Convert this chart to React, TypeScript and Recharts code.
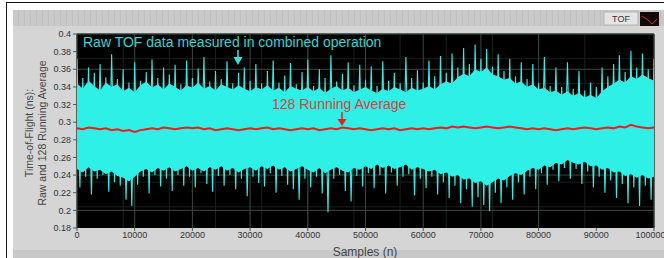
import { ComposedChart, Line, Area, XAxis, YAxis, CartesianGrid } from "recharts";

const xTicks = [0, 10000, 20000, 30000, 40000, 50000, 60000, 70000, 80000, 90000, 100000];
const yTicks = [0.18, 0.2, 0.22, 0.24, 0.26, 0.28, 0.3, 0.32, 0.34, 0.36, 0.38, 0.4];

// solid band of the raw TOF data, every 1000 samples
const coreTop = [
  0.344, 0.338, 0.347, 0.341, 0.336, 0.345, 0.34, 0.343, 0.335, 0.339,
  0.334, 0.342, 0.346, 0.339, 0.343, 0.337, 0.344, 0.34, 0.336, 0.342,
  0.339, 0.345, 0.338, 0.341, 0.336, 0.343, 0.34, 0.337, 0.342, 0.338,
  0.335, 0.34, 0.337, 0.342, 0.336, 0.339, 0.334, 0.341, 0.338, 0.336,
  0.34, 0.335, 0.339, 0.333, 0.338, 0.341, 0.336, 0.339, 0.334, 0.337,
  0.34, 0.336, 0.333, 0.338, 0.335, 0.34, 0.337, 0.334, 0.339, 0.336,
  0.338, 0.341, 0.337, 0.343, 0.346, 0.344, 0.351, 0.355, 0.352, 0.36,
  0.357, 0.362, 0.354, 0.352, 0.348, 0.35, 0.344, 0.346, 0.34, 0.343,
  0.337, 0.339, 0.334, 0.336, 0.331, 0.335, 0.33, 0.333, 0.328, 0.331,
  0.327, 0.335, 0.34, 0.344, 0.348, 0.345, 0.352, 0.349, 0.354, 0.35,
  0.347,
];
const coreBottom = [
  0.247, 0.243, 0.249, 0.244, 0.246, 0.241, 0.244, 0.239, 0.237, 0.233,
  0.238, 0.244, 0.247, 0.243, 0.248, 0.245, 0.249, 0.244, 0.247, 0.25,
  0.245, 0.248, 0.244, 0.249, 0.246, 0.25, 0.245, 0.248, 0.243, 0.247,
  0.249, 0.245, 0.25, 0.247, 0.251, 0.246, 0.249, 0.244, 0.247, 0.25,
  0.246, 0.243, 0.248, 0.242, 0.246, 0.249, 0.245, 0.243, 0.248, 0.246,
  0.25, 0.247, 0.252, 0.248, 0.251, 0.247, 0.249, 0.252, 0.246, 0.249,
  0.247, 0.244, 0.246, 0.241, 0.243, 0.238, 0.24, 0.235, 0.236, 0.231,
  0.233, 0.228, 0.232, 0.236, 0.234, 0.239, 0.242, 0.24, 0.245, 0.248,
  0.246, 0.251, 0.249, 0.254, 0.252, 0.257, 0.254, 0.252, 0.255, 0.25,
  0.251, 0.246, 0.248, 0.243, 0.244, 0.239, 0.241, 0.237, 0.24, 0.236,
  0.238,
];

// upper spikes at 0, 1000, ... 100000
const spikeTop = [
  0.372, 0.35, 0.362, 0.356, 0.366, 0.351, 0.377, 0.349, 0.36, 0.345,
  0.368, 0.347, 0.357, 0.371, 0.35, 0.362, 0.354, 0.365, 0.343, 0.37,
  0.35, 0.361, 0.374, 0.346, 0.358, 0.349, 0.369, 0.344, 0.356, 0.362,
  0.347, 0.366, 0.344, 0.358, 0.37, 0.345, 0.353, 0.367, 0.343, 0.357,
  0.371, 0.341, 0.36, 0.35, 0.376, 0.346, 0.355, 0.368, 0.342, 0.365,
  0.348, 0.363, 0.341, 0.369, 0.347, 0.356, 0.344, 0.374, 0.35, 0.359,
  0.345, 0.37, 0.352, 0.375, 0.356, 0.378, 0.362, 0.384, 0.366, 0.388,
  0.372, 0.383, 0.363, 0.377, 0.358, 0.372, 0.352, 0.368, 0.349, 0.366,
  0.344, 0.374, 0.341, 0.362, 0.34, 0.368, 0.338, 0.358, 0.336, 0.345,
  0.34, 0.362, 0.352, 0.366, 0.376, 0.357, 0.381, 0.362, 0.378, 0.36,
  0.372,
];

// lower spikes at 500, 1500, ... 99500
const spikeBottom = [
  0.226, 0.238, 0.218, 0.236, 0.24, 0.221, 0.232, 0.228, 0.212, 0.205,
  0.229, 0.238, 0.219, 0.24, 0.227, 0.236, 0.222, 0.24, 0.228, 0.238,
  0.226, 0.242, 0.23, 0.221, 0.239, 0.228, 0.24, 0.224, 0.236, 0.216,
  0.238, 0.231, 0.227, 0.242, 0.22, 0.239, 0.229, 0.224, 0.212, 0.236,
  0.226, 0.238, 0.219, 0.198, 0.236, 0.24, 0.222, 0.21, 0.239, 0.227,
  0.242, 0.225, 0.24, 0.219, 0.243, 0.228, 0.238, 0.241, 0.217, 0.236,
  0.225, 0.238, 0.218, 0.232, 0.214, 0.228, 0.208, 0.224, 0.204, 0.215,
  0.206, 0.199, 0.22, 0.208, 0.226, 0.212, 0.232, 0.218, 0.238, 0.224,
  0.242, 0.229, 0.246, 0.233, 0.248, 0.236, 0.247, 0.23, 0.244, 0.226,
  0.238, 0.22, 0.234, 0.214, 0.23, 0.208, 0.226, 0.205, 0.228, 0.212,
];

// 128 running average, every 1000 samples
const runAvg = [
  0.293, 0.292, 0.294, 0.293, 0.292, 0.293, 0.291, 0.292, 0.29, 0.291,
  0.289, 0.291, 0.292, 0.293, 0.292, 0.294, 0.293, 0.292, 0.293, 0.294,
  0.293, 0.294, 0.292, 0.293, 0.291, 0.292, 0.293, 0.292, 0.291, 0.292,
  0.293, 0.292, 0.293, 0.294, 0.292, 0.293, 0.292, 0.291, 0.292, 0.293,
  0.292, 0.293, 0.291, 0.292, 0.293, 0.292, 0.294, 0.293, 0.292, 0.293,
  0.292, 0.291, 0.292, 0.293, 0.292, 0.293, 0.291, 0.292, 0.293, 0.292,
  0.293, 0.292, 0.293, 0.294, 0.293, 0.295, 0.294, 0.295, 0.294, 0.293,
  0.294, 0.295, 0.294, 0.293, 0.294, 0.295, 0.294, 0.293, 0.292, 0.293,
  0.292, 0.293, 0.292, 0.291, 0.292, 0.293, 0.292, 0.293, 0.294, 0.293,
  0.292, 0.293, 0.294, 0.293, 0.295, 0.294, 0.297, 0.295, 0.294, 0.293,
  0.294,
];

type Row = { s: number; spike?: number; avg?: number; core?: [number, number] };

const rows: Row[] = [];
runAvg.forEach((avg, i) => {
  rows.push({ s: i * 1000, spike: spikeTop[i], avg, core: [coreBottom[i], coreTop[i]] });
  if (i < spikeBottom.length) rows.push({ s: i * 1000 + 500, spike: spikeBottom[i] });
});

const minorX = Array.from({ length: 51 }, (_, i) => i * 2000);
const minorY = Array.from({ length: 56 }, (_, i) => 0.18 + i * 0.004);

const fmtY = (v: number) => String(Number(v.toFixed(2)));

const CYAN = "#2ff0e6";
const tickFont = { fontSize: 9, fill: "#333", fontFamily: "'Liberation Sans', Arial, sans-serif" };

export default function App() {
  return (
    <div style={{ position: "absolute", left: 0, top: 0, width: 664, height: 258, background: "#fff", overflow: "hidden", fontFamily: "'Liberation Sans', Arial, sans-serif" }}>
      {/* frame and panel */}
      <div style={{ position: "absolute", left: 6, top: 2, width: 658, height: 1, background: "#111" }} />
      <div style={{ position: "absolute", left: 6, top: 2, width: 1, height: 256, background: "#111" }} />
      <div style={{ position: "absolute", left: 13, top: 10, width: 651, height: 248, background: "#d5d5d5" }} />
      <div
        style={{
          position: "absolute", left: 13, top: 10, width: 651, height: 16,
          background: "repeating-linear-gradient(90deg, #c9c9c9 0px, #c9c9c9 5px, #bfbfbf 5px, #bfbfbf 6px)",
        }}
      />
      <div style={{ position: "absolute", left: 13, top: 250, width: 651, height: 8, background: "#c8c8c8" }} />

      <div style={{ position: "absolute", left: 0, top: 0 }}>
        <ComposedChart width={664} height={258} data={rows} margin={{ top: 34, right: 10, bottom: 0, left: 37 }}>
          <CartesianGrid fill="#000" stroke="#17211b" verticalValues={minorX} horizontalValues={minorY} />
          <CartesianGrid fill="none" stroke="#3a4a40" verticalValues={xTicks} horizontalValues={yTicks} />
          <XAxis
            dataKey="s"
            type="number"
            domain={[0, 100000]}
            ticks={xTicks}
            tick={tickFont}
            tickSize={3}
            tickMargin={1}
            axisLine={false}
            tickLine={{ stroke: "#555" }}
            height={30}
            allowDataOverflow
          />
          <YAxis
            type="number"
            domain={[0.18, 0.4]}
            ticks={yTicks}
            tickFormatter={fmtY}
            tick={tickFont}
            tickSize={4}
            tickMargin={2}
            axisLine={false}
            tickLine={{ stroke: "#555" }}
            width={40}
            allowDataOverflow
          />
          <Area
            dataKey="core"
            type="linear"
            fill={CYAN}
            fillOpacity={1}
            stroke="none"
            connectNulls
            isAnimationActive={false}
          />
          <Line
            dataKey="spike"
            type="linear"
            stroke={CYAN}
            strokeWidth={1.1}
            dot={false}
            connectNulls
            isAnimationActive={false}
          />
          <Line
            dataKey="avg"
            type="linear"
            stroke="#ee1c1c"
            strokeWidth={2}
            dot={false}
            connectNulls
            isAnimationActive={false}
          />
        </ComposedChart>
      </div>

      <svg width={664} height={258} style={{ position: "absolute", left: 0, top: 0, pointerEvents: "none" }}>
        {/* axis titles */}
        <text transform="translate(33,133) rotate(-90)" textAnchor="middle" fontSize={10.5} fill="#444">
          Time-of-Flight (ns):
        </text>
        <text transform="translate(46,133) rotate(-90)" textAnchor="middle" fontSize={10.5} fill="#444">
          Raw and 128 Running Average
        </text>
        <text x={365} y={256} textAnchor="middle" fontSize={12} fill="#444">
          Samples (n)
        </text>

        {/* annotations */}
        <text x={83} y={47} fontSize={14} fill="#36d3d0">
          Raw TOF data measured in combined operation
        </text>
        <line x1={238} y1={50} x2={238} y2={58} stroke="#36e0dc" strokeWidth={1.5} />
        <polygon points="233.5,57 242.5,57 238,65" fill="#36e0dc" />
        <text x={272} y={109} fontSize={14} fill="#d94040">
          128 Running Average
        </text>
        <line x1={342} y1={112} x2={342} y2={120} stroke="#ee1c1c" strokeWidth={1.5} />
        <polygon points="337.5,119 346.5,119 342,126" fill="#ee1c1c" />

        {/* legend */}
        <rect x={604} y={12} width={34} height={13} fill="#e4e4e4" stroke="#b5b5b5" />
        <text x={621} y={22} textAnchor="middle" fontSize={9} fill="#333">
          TOF
        </text>
        <rect x={640} y={12} width={19} height={14} fill="#120808" />
        <polyline points="642,16 648,20 652,24 657,19" fill="none" stroke="#d02020" strokeWidth={1} />
      </svg>
    </div>
  );
}
